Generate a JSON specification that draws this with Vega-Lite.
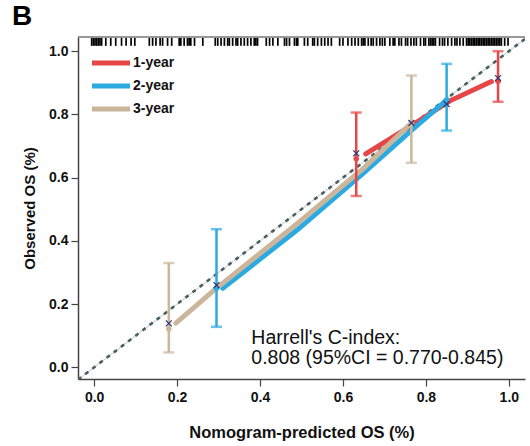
{
  "$schema": "https://vega.github.io/schema/vega-lite/v6.json",
  "width": 447,
  "height": 342,
  "autosize": {"type": "none"},
  "padding": {"left": 78, "top": 37, "right": 5, "bottom": 67},
  "background": "white",
  "title": {"text": "B", "anchor": "start", "frame": "group", "fontSize": 28, "fontWeight": "bold", "font": "Liberation Sans", "color": "black", "dx": -66, "offset": 5},
  "config": {
    "view": {"stroke": null},
    "font": "Liberation Sans",
    "axis": {"grid": false, "domainColor": "#444", "domainWidth": 1.5, "tickColor": "#444", "tickWidth": 1.2, "tickSize": 7, "labelFont": "Liberation Sans", "labelFontWeight": "bold", "labelFontSize": 14, "labelColor": "#111", "titleFont": "Liberation Sans", "titleFontWeight": "bold", "titleColor": "#111"}
  },
  "datasets": {
    "curves": [
      {"s": "1-year", "x": 0.655, "y": 0.675},
      {"s": "1-year", "x": 0.765, "y": 0.765},
      {"s": "1-year", "x": 0.858, "y": 0.843},
      {"s": "1-year", "x": 0.958, "y": 0.904},
      {"s": "2-year", "x": 0.31, "y": 0.25},
      {"s": "2-year", "x": 0.49, "y": 0.435},
      {"s": "2-year", "x": 0.65, "y": 0.615},
      {"s": "2-year", "x": 0.77, "y": 0.755},
      {"s": "2-year", "x": 0.845, "y": 0.84},
      {"s": "3-year", "x": 0.197, "y": 0.14},
      {"s": "3-year", "x": 0.29, "y": 0.245},
      {"s": "3-year", "x": 0.49, "y": 0.455},
      {"s": "3-year", "x": 0.65, "y": 0.63},
      {"s": "3-year", "x": 0.765, "y": 0.773}
    ],
    "bars": [
      {"s": "1-year", "x": 0.632, "lo": 0.542, "hi": 0.806, "obs": 0.66, "xm": 0.677},
      {"s": "1-year", "x": 0.974, "lo": 0.84, "hi": 1.0, "obs": 0.905, "xm": 0.915},
      {"s": "2-year", "x": 0.295, "lo": 0.128, "hi": 0.437, "obs": 0.25, "xm": 0.26},
      {"s": "2-year", "x": 0.85, "lo": 0.749, "hi": 0.96, "obs": 0.846, "xm": 0.833},
      {"s": "3-year", "x": 0.18, "lo": 0.047, "hi": 0.33, "obs": 0.121, "xm": 0.139},
      {"s": "3-year", "x": 0.765, "lo": 0.647, "hi": 0.923, "obs": 0.774, "xm": 0.773}
    ],
    "rug": [
      {"p": -0.006}, {"p": -0.002}, {"p": 0.002}, {"p": 0.006}, {"p": 0.01}, {"p": 0.014}, {"p": 0.018},
      {"p": 0.028}, {"p": 0.04}, {"p": 0.052}, {"p": 0.066}, {"p": 0.077}, {"p": 0.089}, {"p": 0.098},
      {"p": 0.133}, {"p": 0.141}, {"p": 0.149}, {"p": 0.159}, {"p": 0.165}, {"p": 0.177}, {"p": 0.187},
      {"p": 0.205}, {"p": 0.209}, {"p": 0.217}, {"p": 0.225}, {"p": 0.229}, {"p": 0.233}, {"p": 0.242}, {"p": 0.262},
      {"p": 0.292}, {"p": 0.298}, {"p": 0.306}, {"p": 0.314}, {"p": 0.322}, {"p": 0.326}, {"p": 0.334}, {"p": 0.342},
      {"p": 0.346}, {"p": 0.354}, {"p": 0.362}, {"p": 0.37}, {"p": 0.378}, {"p": 0.386}, {"p": 0.39}, {"p": 0.394},
      {"p": 0.415}, {"p": 0.423}, {"p": 0.431}, {"p": 0.443}, {"p": 0.459}, {"p": 0.464}, {"p": 0.471}, {"p": 0.483}, {"p": 0.488},
      {"p": 0.491}, {"p": 0.507}, {"p": 0.515}, {"p": 0.527}, {"p": 0.531}, {"p": 0.539}, {"p": 0.548}, {"p": 0.556}, {"p": 0.564}, {"p": 0.572},
      {"p": 0.592}, {"p": 0.6}, {"p": 0.612}, {"p": 0.621}, {"p": 0.629}, {"p": 0.637}, {"p": 0.645}, {"p": 0.649}, {"p": 0.653},
      {"p": 0.661}, {"p": 0.668}, {"p": 0.673}, {"p": 0.681}, {"p": 0.689}, {"p": 0.695}, {"p": 0.701}, {"p": 0.713}, {"p": 0.721},
      {"p": 0.725}, {"p": 0.735}, {"p": 0.741}, {"p": 0.751}, {"p": 0.756}, {"p": 0.764}, {"p": 0.771}, {"p": 0.777}, {"p": 0.787},
      {"p": 0.795}, {"p": 0.799}, {"p": 0.807}, {"p": 0.811}, {"p": 0.815}, {"p": 0.819}, {"p": 0.823}, {"p": 0.833}, {"p": 0.84},
      {"p": 0.845}, {"p": 0.853}, {"p": 0.862}, {"p": 0.87}, {"p": 0.875}, {"p": 0.882}, {"p": 0.89}, {"p": 0.898},
      {"p": 0.902}, {"p": 0.906}, {"p": 0.91}, {"p": 0.914}, {"p": 0.918}, {"p": 0.922}, {"p": 0.926}, {"p": 0.93}, {"p": 0.934},
      {"p": 0.938}, {"p": 0.942}, {"p": 0.946}, {"p": 0.95}, {"p": 0.954}, {"p": 0.958}, {"p": 0.962}, {"p": 0.966}, {"p": 0.97},
      {"p": 0.974}, {"p": 0.978}, {"p": 0.982}, {"p": 0.99}, {"p": 0.998}
    ],
    "diag": [{"v": -0.039}, {"v": 1.045}],
    "note": [
      {"x": 0.379, "y": 0.074, "t": "Harrell's C-index:"},
      {"x": 0.379, "y": 0.01, "t": "0.808 (95%CI = 0.770-0.845)"}
    ]
  },
  "layer": [
    {
      "data": {"name": "diag"},
      "mark": {"type": "line", "color": "#cfd3d3", "strokeWidth": 1.2, "clip": true},
      "encoding": {
        "x": {"field": "v", "type": "quantitative", "scale": {"domain": [-0.039, 1.039], "nice": false, "zero": false}, "axis": {"values": [0, 0.2, 0.4, 0.6, 0.8, 1.0], "format": ".1f", "title": "Nomogram-predicted OS (%)", "titleFontSize": 16.5, "titlePadding": 20, "labelPadding": 4}},
        "y": {"field": "v", "type": "quantitative", "scale": {"domain": [-0.037, 1.045], "nice": false, "zero": false}, "axis": {"values": [0, 0.2, 0.4, 0.6, 0.8, 1.0], "format": ".1f", "title": "Observed OS (%)", "titleFontSize": 15, "titlePadding": 11, "labelPadding": 3}}
      }
    },
    {
      "data": {"name": "diag"},
      "mark": {"type": "line", "color": "#46605f", "strokeWidth": 2.6, "strokeDash": [4, 5], "clip": true},
      "encoding": {
        "x": {"field": "v", "type": "quantitative"},
        "y": {"field": "v", "type": "quantitative"}
      }
    },
    {
      "data": {"name": "curves"},
      "mark": {"type": "line", "strokeWidth": 5, "strokeCap": "round"},
      "encoding": {
        "x": {"field": "x", "type": "quantitative"},
        "y": {"field": "y", "type": "quantitative"},
        "color": {"field": "s", "type": "nominal", "scale": {"domain": ["1-year", "2-year", "3-year"], "range": ["#E64646", "#2BAAE2", "#CBB69C"]},
          "legend": {"title": null, "orient": "none", "legendX": 11, "legendY": 17, "symbolType": "stroke", "symbolStrokeWidth": 5, "symbolSize": 1450, "clipHeight": 18, "labelFontSize": 14, "labelFontWeight": "bold", "labelFont": "Liberation Sans", "labelColor": "#111", "rowPadding": 5, "labelOffset": 0}}
      }
    },
    {
      "data": {"name": "bars"},
      "mark": {"type": "rule", "strokeWidth": 2.5},
      "encoding": {
        "x": {"field": "x", "type": "quantitative"},
        "y": {"field": "lo", "type": "quantitative"},
        "y2": {"field": "hi"},
        "color": {"field": "s", "type": "nominal", "legend": null}
      }
    },
    {
      "data": {"name": "bars"},
      "mark": {"type": "tick", "orient": "horizontal", "size": 11, "thickness": 2.5},
      "encoding": {
        "x": {"field": "x", "type": "quantitative"},
        "y": {"field": "lo", "type": "quantitative"},
        "color": {"field": "s", "type": "nominal", "legend": null}
      }
    },
    {
      "data": {"name": "bars"},
      "mark": {"type": "tick", "orient": "horizontal", "size": 11, "thickness": 2.5},
      "encoding": {
        "x": {"field": "x", "type": "quantitative"},
        "y": {"field": "hi", "type": "quantitative"},
        "color": {"field": "s", "type": "nominal", "legend": null}
      }
    },
    {
      "data": {"name": "bars"},
      "mark": {"type": "point", "filled": true, "size": 30, "opacity": 1},
      "encoding": {
        "x": {"field": "x", "type": "quantitative"},
        "y": {"field": "obs", "type": "quantitative"},
        "color": {"field": "s", "type": "nominal", "legend": null}
      }
    },
    {
      "data": {"name": "bars"},
      "mark": {"type": "point", "shape": "M-1,-1L1,1M-1,1L1,-1", "filled": false, "size": 35, "color": "#2E3275", "strokeWidth": 1.2, "opacity": 1},
      "encoding": {
        "x": {"field": "x", "type": "quantitative"},
        "y": {"field": "xm", "type": "quantitative"}
      }
    },
    {
      "data": {"name": "rug"},
      "mark": {"type": "rule", "color": "black", "strokeWidth": 1.7},
      "encoding": {
        "x": {"field": "p", "type": "quantitative"},
        "y": {"datum": 1.042, "type": "quantitative"},
        "y2": {"datum": 1.017}
      }
    },
    {
      "data": {"name": "diag"},
      "mark": {"type": "rule", "color": "#777", "strokeWidth": 1.2},
      "encoding": {
        "x": {"datum": -0.039, "type": "quantitative"},
        "x2": {"datum": 1.039},
        "y": {"datum": 1.045, "type": "quantitative"}
      }
    },
    {
      "data": {"name": "note"},
      "mark": {"type": "text", "align": "left", "baseline": "alphabetic", "fontSize": 19.5, "font": "Liberation Sans", "color": "#111"},
      "encoding": {
        "x": {"field": "x", "type": "quantitative"},
        "y": {"field": "y", "type": "quantitative"},
        "text": {"field": "t"}
      }
    }
  ]
}
